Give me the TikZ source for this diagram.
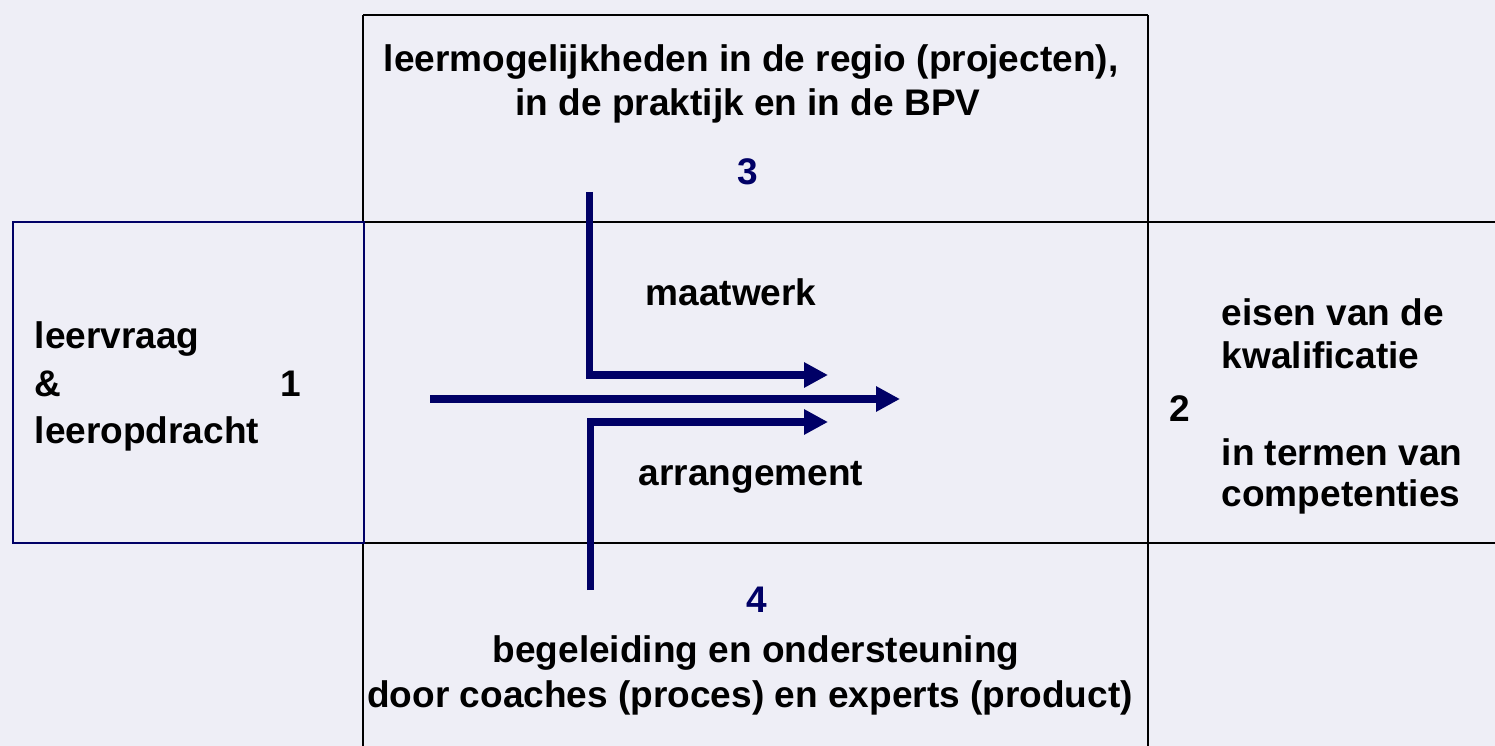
\documentclass[tikz,border=0pt]{standalone}
\usepackage{fontspec}
\setmainfont{Liberation Sans}
\usetikzlibrary{arrows.meta}
\definecolor{navy}{RGB}{0,0,102}
\definecolor{bgc}{RGB}{238,238,246}
\tikzset{
  txt/.style={font=\fontsize{10.53}{12}\selectfont\bfseries, inner sep=0pt, text=black},
  numnavy/.style={txt, text=navy},
  gridline/.style={draw=black, line width=0.024cm},
  navybox/.style={draw=navy, line width=0.024cm},
  flow/.style={draw=navy, line width=0.07cm, line join=miter, -{Triangle[length=0.24cm,width=0.24cm]}}
}
\begin{document}
\begin{tikzpicture}[x=0.01cm, y=-0.01cm]
  \fill[bgc] (0,0) rectangle (1495,746);
  \useasboundingbox (0,0) rectangle (1495,746);
  % grid lines
  \draw[gridline] (363,15) -- (1148,15);
  \draw[gridline] (363,15) -- (363,222);
  \draw[gridline] (363,543) -- (363,746);
  \draw[gridline] (1148,15) -- (1148,746);
  \draw[gridline] (363,222) -- (1495,222);
  \draw[gridline] (363,543) -- (1495,543);
  % left box
  \draw[navybox] (13,222) rectangle (364,543);
  % texts top
  \node[txt, anchor=base] (t1) at (751,72) {leermogelijkheden in de regio (projecten),};
  \node[txt, anchor=base] (t2) at (748,116) {in de praktijk en in de BPV};
  \node[numnavy, anchor=base] (n3) at (748,185) {3};
  % left
  \node[txt, anchor=base west] (l1) at (34,348) {leervraag};
  \node[txt, anchor=base west] (l2) at (34,396) {\&};
  \node[txt, anchor=base west] (l3) at (34,443) {leeropdracht};
  \node[txt, anchor=base west] (n1) at (280,396) {1};
  % right
  \node[txt, anchor=base west] (r1) at (1221,325) {eisen van de};
  \node[txt, anchor=base west] (r2) at (1221,368) {kwalificatie};
  \node[txt, anchor=base west] (n2) at (1169,421) {2};
  \node[txt, anchor=base west] (r3) at (1221,465) {in termen van};
  \node[txt, anchor=base west] (r4) at (1221,506) {competenties};
  % middle
  \node[txt, anchor=base] (mw) at (731,306) {maatwerk};
  \node[txt, anchor=base] (ar) at (751,485) {arrangement};
  % bottom
  \node[numnavy, anchor=base] (n4) at (757,612) {4};
  \node[txt, anchor=base] (b1) at (756,662) {begeleiding en ondersteuning};
  \node[txt, anchor=base] (b2) at (750,707) {door coaches (proces) en experts (product)};
  % arrows
  \coordinate (mainS) at (430,399);
  \coordinate (mainE) at (900,399);
  \coordinate (upS) at (589,192);
  \coordinate (upC) at (589,375);
  \coordinate (upE) at (828,375);
  \coordinate (loS) at (590,590);
  \coordinate (loC) at (590,422);
  \coordinate (loE) at (828,422);
  \draw[flow] (mainS) -- (mainE);
  \draw[flow] (upS) -- (upC) -- (upE);
  \draw[flow] (loS) -- (loC) -- (loE);
\end{tikzpicture}
\end{document}
